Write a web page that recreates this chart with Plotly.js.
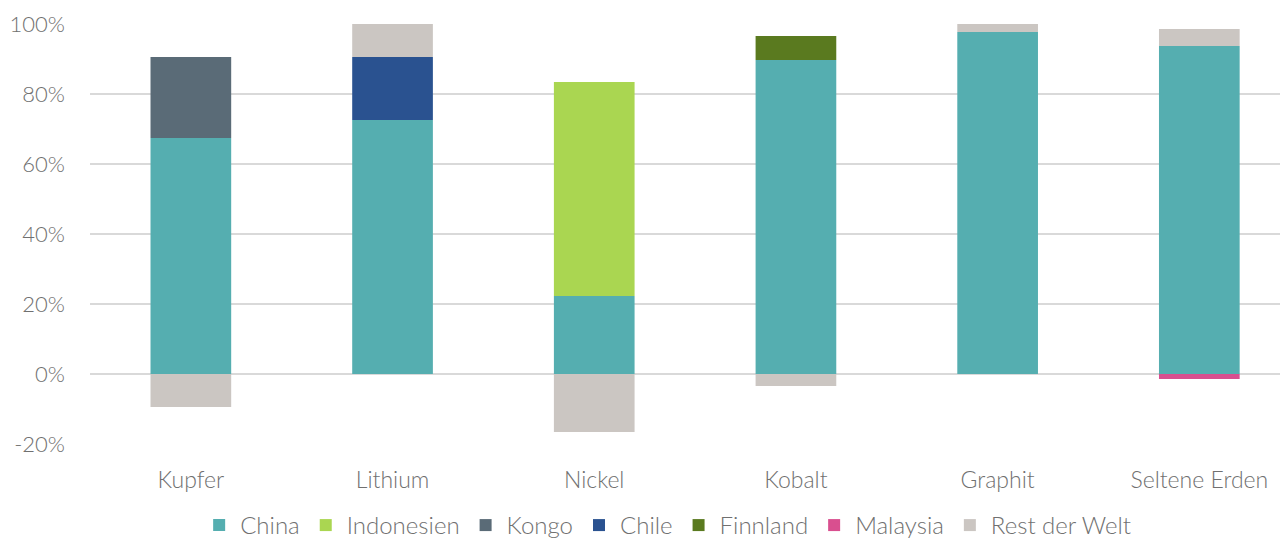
<!DOCTYPE html>
<html>
<head>
<meta charset="utf-8">
<script src="https://cdn.plot.ly/plotly-3.0.1.min.js"></script>
<style>html,body{margin:0;padding:0;background:#fff;}#chart{width:1280px;height:541px;}</style>
</head>
<body>
<div id="chart"></div>
<script>
const categories = ["Kupfer", "Lithium", "Nickel", "Kobalt", "Graphit", "Seltene Erden"];
const china      = [67.4, 72.6, 22.3, 89.7, 97.7, 93.7];
const indonesien = [0, 0, 61.1, 0, 0, 0];
const kongo      = [23.2, 0, 0, 0, 0, 0];
const chile      = [0, 18.0, 0, 0, 0, 0];
const finnland   = [0, 0, 0, 6.9, 0, 0];
const malaysia   = [0, 0, 0, 0, 0, -1.4];
const restDerWelt = [-9.4, 9.4, -16.6, -3.4, 2.3, 4.9];

const seriesNames = ["China", "Indonesien", "Kongo", "Chile", "Finnland", "Malaysia", "Rest der Welt"];
const seriesValues = [china, indonesien, kongo, chile, finnland, malaysia, restDerWelt];
const seriesColors = ["#55AEB0", "#AAD651", "#5A6B77", "#2A5290", "#5A7A1F", "#D94F8F", "#CBC6C2"];

const yTickVals = [-20, 0, 20, 40, 60, 80, 100];
const yTickText = ["-20%", "0%", "20%", "40%", "60%", "80%", "100%"];

const traces = seriesNames.map((n, i) => ({
  type: "bar",
  name: n,
  x: categories,
  y: seriesValues[i],
  marker: {color: seriesColors[i], line: {width: 0}},
  hoverinfo: "x+y+name"
}));

const fontFam = "Lato, 'Open Sans', sans-serif";
const txtColor = "#707070";
const layout = {
  width: 1280, height: 541,
  margin: {l: 90, r: 0, t: 24, b: 97, autoexpand: false},
  paper_bgcolor: "#fff", plot_bgcolor: "#fff",
  barmode: "relative",
  bargap: 0.6,
  font: {family: fontFam, size: 22, color: txtColor, weight: 300},
  xaxis: {
    type: "category",
    range: [-0.5, 5.4],
    showgrid: false, zeroline: false, showline: false,
    ticks: "", ticklabelstandoff: 20,
    tickfont: {family: fontFam, size: 23, color: txtColor, weight: 300}
  },
  yaxis: {
    range: [-20, 100],
    tickmode: "array", tickvals: yTickVals, ticktext: yTickText,
    showgrid: true, gridcolor: "#d9d9d9", gridwidth: 1.5,
    zeroline: true, zerolinecolor: "#d9d9d9", zerolinewidth: 1.5,
    showline: false, ticks: "", ticklabelstandoff: 24,
    tickfont: {family: fontFam, size: 22, color: txtColor, weight: 300}
  },
  showlegend: true,
  legend: {
    orientation: "h",
    x: 0.485, xanchor: "center",
    y: -0.194, yanchor: "middle",
    font: {family: fontFam, size: 24, color: txtColor, weight: 300},
    itemwidth: 32,
    traceorder: "normal"
  }
};

Plotly.newPlot("chart", traces, layout, {displayModeBar: false, staticPlot: true});
</script>
</body>
</html>
